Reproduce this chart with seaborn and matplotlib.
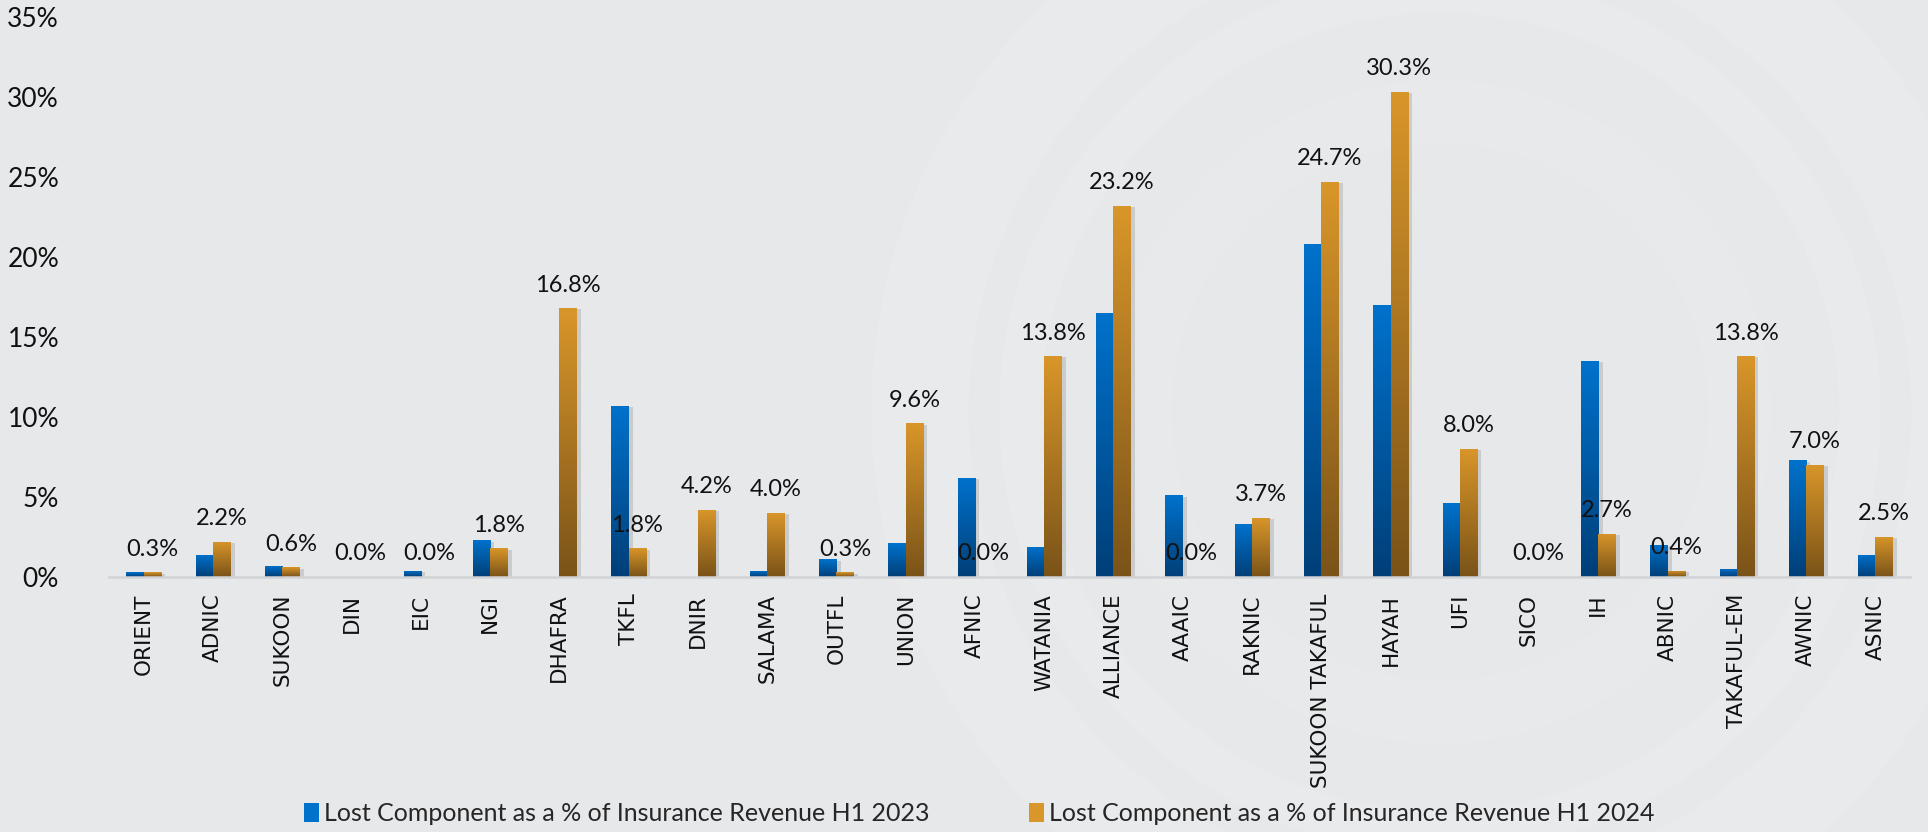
import numpy as np
import pandas as pd
import matplotlib
matplotlib.use('Agg')
import matplotlib.pyplot as plt
import matplotlib.patheffects as pe
from matplotlib.colors import LinearSegmentedColormap
from matplotlib.patches import Patch, Circle
from matplotlib.transforms import IdentityTransform
import seaborn as sns

companies = ['ORIENT', 'ADNIC', 'SUKOON', 'DIN', 'EIC', 'NGI', 'DHAFRA', 'TKFL',
             'DNIR', 'SALAMA', 'OUTFL', 'UNION', 'AFNIC', 'WATANIA', 'ALLIANCE',
             'AAAIC', 'RAKNIC', 'SUKOON TAKAFUL', 'HAYAH', 'UFI', 'SICO', 'IH',
             'ABNIC', 'TAKAFUL-EM', 'AWNIC', 'ASNIC']
h1_2023 = [0.3, 1.4, 0.7, 0.0, 0.4, 2.3, 0.0, 10.7, 0.0, 0.4, 1.1, 2.1, 6.2,
           1.9, 16.5, 5.1, 3.3, 20.8, 17.0, 4.6, 0.0, 13.5, 2.0, 0.5, 7.3, 1.4]
h1_2024 = [0.3, 2.2, 0.6, 0.0, 0.0, 1.8, 16.8, 1.8, 4.2, 4.0, 0.3, 9.6, 0.0,
           13.8, 23.2, 0.0, 3.7, 24.7, 30.3, 8.0, 0.0, 2.7, 0.4, 13.8, 7.0, 2.5]
series = ['Lost Component as a % of Insurance Revenue H1 2023',
          'Lost Component as a % of Insurance Revenue H1 2024']

df = pd.DataFrame({
    'company': companies * 2,
    'value': h1_2023 + h1_2024,
    'period': [series[0]] * len(companies) + [series[1]] * len(companies),
})

# top / bottom colours of the bar gradients
blue_top, blue_bot = '#0072cc', '#003f78'
gold_top, gold_bot = '#d9962a', '#7a5318'

sns.set_style('white')
plt.rcParams['font.family'] = ['Lato', 'DejaVu Sans']

fig = plt.figure(figsize=(19.28, 8.32), dpi=100)
fig.patch.set_facecolor('#e7e8ea')

# faint decorative rings in the background
for r, lw, a in [(520, 70, 0.12), (420, 30, 0.10), (300, 45, 0.08)]:
    fig.add_artist(Circle((1440, 420), r, transform=IdentityTransform(),
                          fill=False, edgecolor='white', lw=lw, alpha=a, zorder=-5))

ax = fig.add_axes([0.0566, 0.3065, 0.9341, 0.6735])
ax.set_facecolor('none')

sns.barplot(data=df, x='company', y='value', hue='period',
            palette=[blue_top, gold_top], width=0.5, gap=0, saturation=1,
            legend=False, ax=ax)

# gradient fill + soft shadow on each bar
for cont, (top, bot) in zip(ax.containers, [(blue_top, blue_bot), (gold_top, gold_bot)]):
    cmap = LinearSegmentedColormap.from_list('g', [bot, top])
    for bar in cont:
        bar.set_edgecolor('none')
        h = bar.get_height()
        if h <= 0:
            continue
        bar.set_path_effects([pe.SimplePatchShadow(offset=(3, -1), shadow_rgbFace='k',
                                                   alpha=0.12), pe.Normal()])
        x0, w = bar.get_x(), bar.get_width()
        grad = np.linspace(1, 0, 256).reshape(-1, 1)
        im = ax.imshow(grad, extent=[x0, x0 + w, 0, h], origin='upper', aspect='auto',
                       cmap=cmap, vmin=0, vmax=1, zorder=bar.get_zorder() + 0.1)
        im.set_clip_path(bar)

# value labels sit over the 2024 bars
for bar, v in zip(ax.containers[1], h1_2024):
    ax.annotate(f'{v:.1f}%', (bar.get_x() + bar.get_width() / 2, bar.get_height()),
                xytext=(0, 9), textcoords='offset points', ha='center', va='bottom',
                fontsize=17, color='#111111', zorder=5)

ax.set_xlim(-0.5, len(companies) - 0.5)
ax.set_ylim(0, 35)
ax.set_yticks(range(0, 36, 5))
ax.set_yticklabels([f'{t}%' for t in range(0, 36, 5)], fontsize=19, color='#111111')
ax.tick_params(axis='y', length=0, pad=36)
ax.tick_params(axis='x', length=0, pad=12)
for lab in ax.get_xticklabels():
    lab.set_rotation(90)
    lab.set_fontfamily(['DejaVu Sans'])
    lab.set_fontsize(15.5)
    lab.set_color('#111111')
ax.set_xlabel('')
ax.set_ylabel('')

for s in ['top', 'right', 'left']:
    ax.spines[s].set_visible(False)
ax.spines['bottom'].set_color('#d2d3d6')
ax.spines['bottom'].set_linewidth(1.8)

handles = [Patch(facecolor=blue_top, edgecolor='none'),
           Patch(facecolor=gold_top, edgecolor='none')]
fig.legend(handles, series, loc='center', bbox_to_anchor=(0.508, 0.022), ncol=2,
           frameon=False, fontsize=18, handlelength=0.6, handleheight=0.75,
           handletextpad=0.2, columnspacing=4.0)

fig.savefig('out.png', dpi=100, facecolor=fig.get_facecolor())
